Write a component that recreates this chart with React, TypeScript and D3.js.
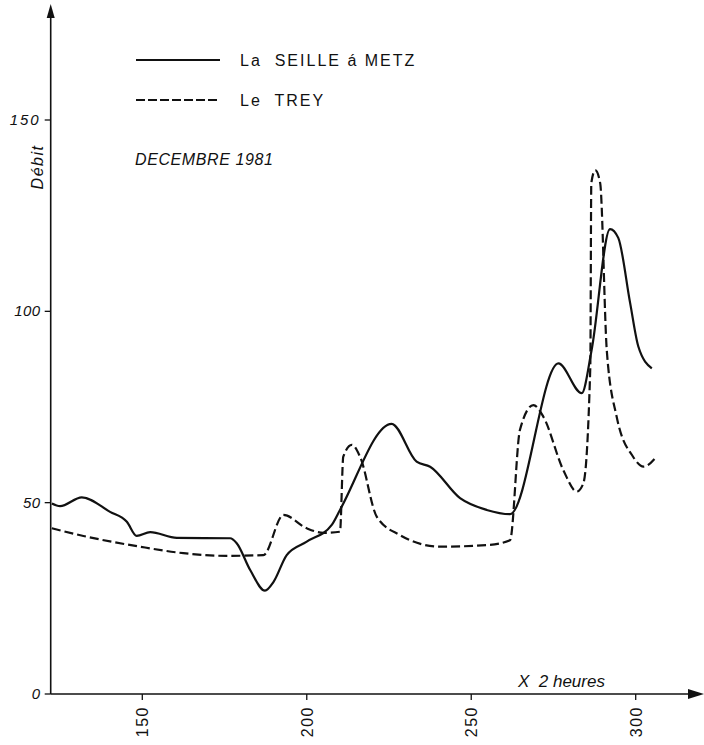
import React from "react";
import * as d3 from "d3";

const seilleX = [122.5, 125.0, 131.6, 140.2, 145.3, 148.3, 152.4, 160.5, 176.7, 178.7, 182.8, 187.3, 189.9, 193.9, 200.0, 207.6, 210.1, 225.8, 233.4, 237.5, 246.6, 254.7, 261.8, 276.5, 283.6, 286.6, 292.2, 294.7, 298.3, 300.8, 304.9];
const seilleY = [49.8, 49.1, 51.4, 47.6, 45.0, 41.3, 42.3, 40.8, 40.7, 39.4, 32.4, 27.0, 29.3, 36.3, 39.8, 44.2, 48.1, 70.6, 60.7, 59.4, 51.2, 48.1, 47.0, 86.4, 78.6, 89.9, 121.5, 119.2, 102.2, 90.8, 85.1];

const treyX = [122.5, 132.1, 149.3, 162.5, 175.7, 186.8, 192.9, 200.0, 205.1, 210.1, 211.1, 213.7, 216.2, 221.3, 228.4, 240.5, 254.7, 261.8, 264.8, 268.9, 271.9, 278.0, 282.1, 284.1, 286.2, 286.5, 287.7, 289.2, 291.2, 294.2, 299.2, 302.4, 306.0];
const treyY = [43.3, 41.3, 38.5, 36.8, 36.1, 36.3, 46.8, 43.3, 42.1, 42.4, 62.0, 65.1, 62.0, 46.3, 41.5, 38.5, 38.9, 40.2, 69.0, 75.5, 72.5, 58.5, 52.9, 55.1, 85.5, 133.5, 136.9, 133.5, 89.9, 72.5, 62.0, 59.4, 61.7];

const xTicks = [150, 200, 250, 300];
const yTicks = [0, 50, 100, 150];
const seriesNames = ["La  SEILLE á METZ", "Le  TREY"];

export default function App() {
  const W = 704, H = 745;
  const x = d3.scaleLinear().domain([150, 300]).range([142.3, 635.7]);
  const y = d3.scaleLinear().domain([0, 150]).range([694, 120]);
  const x0 = x.invert(50.7);
  const line = d3
    .line<[number, number]>()
    .x((d) => x(d[0]))
    .y((d) => y(d[1]))
    .curve(d3.curveMonotoneX);
  const seille = seilleX.map((v, i) => [v, seilleY[i]] as [number, number]);
  const trey = treyX.map((v, i) => [v, treyY[i]] as [number, number]);
  const ax = x(x0);
  const ay = y(0);
  const font = "'Liberation Sans', Arial, sans-serif";
  return (
    <svg
      width={W}
      height={H}
      style={{ position: "absolute", left: 0, top: 0, background: "#fff" }}
      fontFamily={font}
    >
      {/* axes */}
      <line x1={ax} y1={ay} x2={ax} y2={14} stroke="#111" strokeWidth={1.6} />
      <path d={`M${ax},4 L${ax - 4},18 L${ax + 4},18 Z`} fill="#111" />
      <line x1={ax} y1={ay} x2={692} y2={ay} stroke="#111" strokeWidth={1.6} />
      <path d={`M704,${ay} L688,${ay - 5} L688,${ay + 5} Z`} fill="#111" />

      {yTicks.map((t) => (
        <g key={"y" + t}>
          <line x1={ax - 6} x2={ax} y1={y(t)} y2={y(t)} stroke="#111" strokeWidth={1.3} />
          <text
            x={ax - 10}
            y={y(t) + 5}
            textAnchor="end"
            fontSize={15}
            fontStyle="italic"
            fill="#111"
            letterSpacing={t === 150 ? 2 : 0.5}
          >
            {t}
          </text>
        </g>
      ))}
      {xTicks.map((t) => (
        <g key={"x" + t}>
          <line x1={x(t)} x2={x(t)} y1={ay} y2={ay + 6} stroke="#111" strokeWidth={1.3} />
          <text
            transform={`translate(${x(t) + 6},${ay + 12}) rotate(-90)`}
            textAnchor="end"
            fontSize={16}
            letterSpacing={1.5}
            fill="#111"
          >
            {t}
          </text>
        </g>
      ))}

      <text
        transform={`translate(43,167) rotate(-90)`}
        textAnchor="middle"
        fontSize={16}
        fontStyle="italic"
        letterSpacing={1.5}
        fill="#111"
      >
        Débit
      </text>
      <text x={518} y={687} fontSize={17} fontStyle="italic" fill="#111" xmlSpace="preserve">
        X  2 heures
      </text>

      {/* legend */}
      <line x1={136} x2={220} y1={60} y2={60} stroke="#111" strokeWidth={2} />
      <text x={240} y={66} fontSize={16} letterSpacing={2} fill="#111" xmlSpace="preserve">
        {seriesNames[0]}
      </text>
      <line x1={136} x2={220} y1={100} y2={100} stroke="#111" strokeWidth={2} strokeDasharray="9,3" />
      <text x={240} y={106} fontSize={16} letterSpacing={2} fill="#111" xmlSpace="preserve">
        {seriesNames[1]}
      </text>
      <text x={135} y={165} fontSize={16} fontStyle="italic" letterSpacing={0.6} fill="#111">
        DECEMBRE 1981
      </text>

      {/* series */}
      <path d={line(seille) || ""} fill="none" stroke="#111" strokeWidth={2.2} strokeLinejoin="round" />
      <path d={line(trey) || ""} fill="none" stroke="#111" strokeWidth={2.2} strokeDasharray="9,4" />
    </svg>
  );
}
